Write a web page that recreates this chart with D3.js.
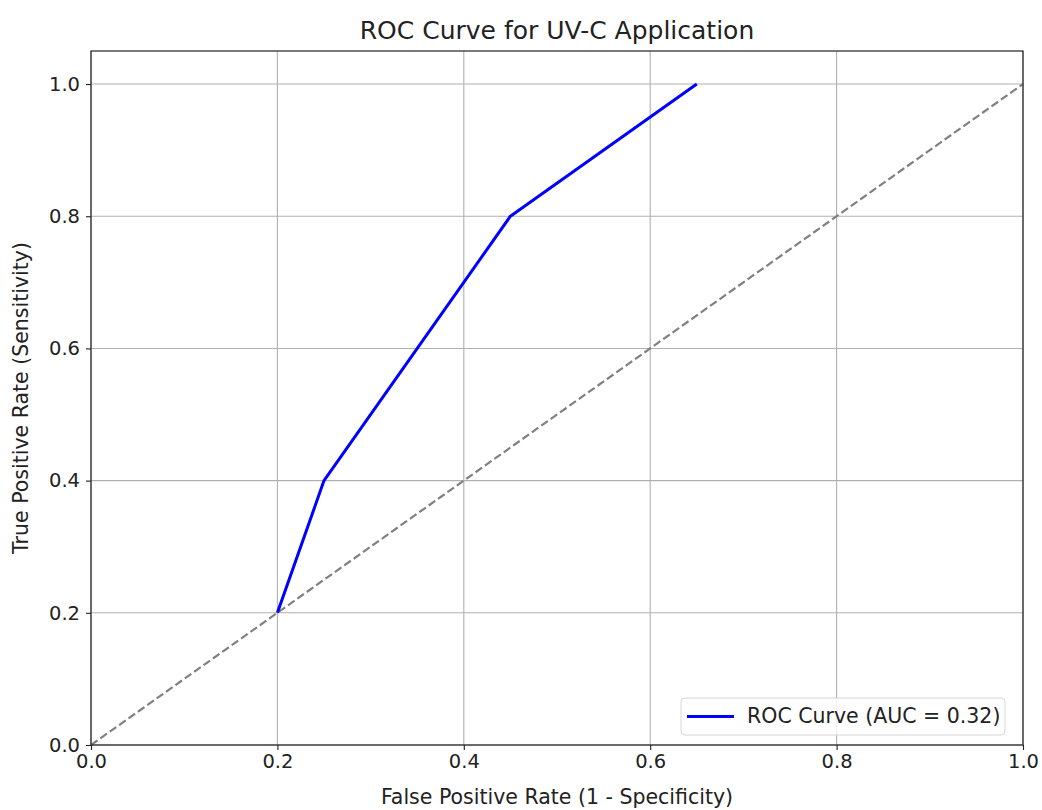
<!DOCTYPE html>
<html>
<head>
<meta charset="utf-8">
<script src="https://cdn.jsdelivr.net/npm/d3@7"></script>
<style>
  body { margin: 0; background: #fff; }
  text { font-family: "DejaVu Sans", sans-serif; fill: #222; }
</style>
</head>
<body>
<script>
// ROC points
const fpr = [0.2, 0.25, 0.45, 0.65];
const tpr = [0.2, 0.4, 0.8, 1.0];
const diagX = [0, 1];
const diagY = [0, 1];
const ticks = [0, 0.2, 0.4, 0.6, 0.8, 1.0];
const aucLabel = "ROC Curve (AUC = 0.32)";

const width = 1042, height = 810;
const margin = {top: 51, right: 19, bottom: 65, left: 91};

const svg = d3.select("body").append("svg")
  .attr("width", width)
  .attr("height", height);

const x = d3.scaleLinear().domain([0, 1]).range([margin.left, width - margin.right]);
const y = d3.scaleLinear().domain([0, 1.05]).range([height - margin.bottom, margin.top]);

// grid
svg.append("g").selectAll("line.gx")
  .data(ticks).enter().append("line")
  .attr("x1", d => x(d)).attr("x2", d => x(d))
  .attr("y1", y(0)).attr("y2", y(1.05))
  .attr("stroke", "#b0b0b0").attr("stroke-width", 1.1);
svg.append("g").selectAll("line.gy")
  .data(ticks).enter().append("line")
  .attr("x1", x(0)).attr("x2", x(1))
  .attr("y1", d => y(d)).attr("y2", d => y(d))
  .attr("stroke", "#b0b0b0").attr("stroke-width", 1.1);

// axes
const xAxis = svg.append("g")
  .attr("transform", "translate(0," + y(0) + ")")
  .call(d3.axisBottom(x).tickValues(ticks).tickFormat(d3.format(".1f")).tickSize(5).tickPadding(4));
const yAxis = svg.append("g")
  .attr("transform", "translate(" + x(0) + ",0)")
  .call(d3.axisLeft(y).tickValues(ticks).tickFormat(d3.format(".1f")).tickSize(5).tickPadding(6));
[xAxis, yAxis].forEach(g => {
  g.select(".domain").remove();
  g.selectAll("text").style("font-size", "19.5px").attr("fill", "#222");
  g.selectAll("line").attr("stroke", "#222").attr("stroke-width", 1.1);
});

// diagonal
const line = d3.line().x(d => x(d[0])).y(d => y(d[1]));
svg.append("path")
  .attr("d", line(d3.zip(diagX, diagY)))
  .attr("fill", "none").attr("stroke", "#808080")
  .attr("stroke-width", 2.2).attr("stroke-dasharray", "8,3.5");

// ROC curve
svg.append("path")
  .attr("d", line(d3.zip(fpr, tpr)))
  .attr("fill", "none").attr("stroke", "#0000ff")
  .attr("stroke-width", 3).attr("stroke-linejoin", "round");

// frame
svg.append("rect")
  .attr("x", x(0)).attr("y", y(1.05))
  .attr("width", x(1) - x(0)).attr("height", y(0) - y(1.05))
  .attr("fill", "none").attr("stroke", "#222").attr("stroke-width", 1.2);

// title and labels
svg.append("text").attr("x", (x(0) + x(1)) / 2).attr("y", 39)
  .attr("text-anchor", "middle").style("font-size", "25px")
  .text("ROC Curve for UV-C Application");
svg.append("text").attr("x", (x(0) + x(1)) / 2).attr("y", 804)
  .attr("text-anchor", "middle").style("font-size", "20.5px")
  .text("False Positive Rate (1 - Specificity)");
svg.append("text")
  .attr("transform", "translate(28," + (y(0) + y(1.05)) / 2 + ") rotate(-90)")
  .attr("text-anchor", "middle").style("font-size", "20.5px")
  .text("True Positive Rate (Sensitivity)");

// legend
const lg = svg.append("g").attr("transform", "translate(681,698)");
lg.append("rect").attr("width", 324).attr("height", 37).attr("rx", 4)
  .attr("fill", "#fff").attr("fill-opacity", 0.8)
  .attr("stroke", "#d6d6d6").attr("stroke-width", 1);
lg.append("line").attr("x1", 6).attr("x2", 53).attr("y1", 18.5).attr("y2", 18.5)
  .attr("stroke", "#0000ff").attr("stroke-width", 3);
lg.append("text").attr("x", 66).attr("y", 25).style("font-size", "20.5px").text(aucLabel);
</script>
</body>
</html>
